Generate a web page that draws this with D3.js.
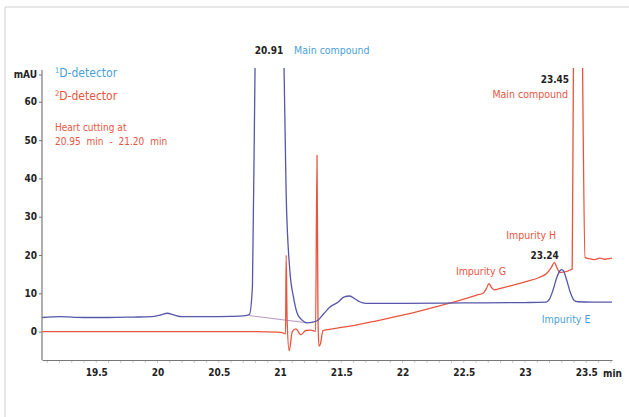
<!DOCTYPE html>
<html>
<head>
<meta charset="utf-8">
<script src="https://cdn.jsdelivr.net/npm/d3@7/dist/d3.min.js"></script>
<style>
  html, body { margin: 0; padding: 0; background: #fff; }
  svg { display: block; }
  .num { font-family: "Liberation Sans Narrow", "DejaVu Sans Condensed", "Liberation Sans", sans-serif; font-weight: bold; font-size: 10px; fill: #222; }
  .lbl { font-family: "Liberation Sans Narrow", "DejaVu Sans Condensed", "Liberation Sans", sans-serif; font-size: 10.5px; }
</style>
</head>
<body>
<script>
// Retention time (min) and absorbance (mAU) of the first-dimension trace
const times1D = [19.06, 19.2, 19.4, 19.6, 19.8, 19.95, 20.03, 20.08, 20.13, 20.2, 20.4, 20.6, 20.72, 20.75, 20.775, 20.796,
  20.91, 21.033, 21.05, 21.08, 21.11, 21.14, 21.18, 21.22, 21.27, 21.31, 21.36, 21.41, 21.47, 21.52, 21.57, 21.61, 21.65, 21.7,
  22.0, 22.5, 23.0, 23.17, 23.2, 23.23, 23.26, 23.285, 23.30, 23.315, 23.34, 23.37, 23.40, 23.43, 23.55, 23.71];
const values1D = [3.7, 3.9, 3.7, 3.7, 3.8, 3.9, 4.4, 4.8, 4.4, 3.9, 3.9, 4.0, 4.2, 4.5, 12, 68.5,
  160, 68.5, 36, 16, 9, 4.8, 3.0, 2.3, 2.5, 3.0, 4.8, 6.5, 7.6, 9.0, 9.3, 8.6, 7.8, 7.4,
  7.4, 7.5, 7.6, 7.7, 8.5, 11.0, 14.2, 15.9, 16.2, 15.8, 13.5, 10.2, 8.2, 7.8, 7.7, 7.7];

// Baseline drawn under the main first-dimension peak
const baseTimes = [20.75, 21.22];
const baseValues = [4.2, 2.3];

// Retention time (min) and absorbance (mAU) of the second-dimension trace
const times2D = [19.06, 19.6, 20.2, 20.8, 20.98, 21.03, 21.045, 21.05, 21.058, 21.075, 21.1, 21.13, 21.17, 21.21, 21.25, 21.29,
  21.302, 21.31, 21.318, 21.33, 21.35, 21.4, 21.5, 21.6, 21.8, 22.0, 22.2, 22.4, 22.6, 22.66, 22.685, 22.705, 22.725, 22.75, 22.8, 23.0, 23.12,
  23.18, 23.215, 23.24, 23.262, 23.285, 23.385, 23.395, 23.45, 23.47, 23.49, 23.53, 23.57, 23.61, 23.65, 23.71];
const values2D = [0, 0, 0, 0, -0.1, -0.4, -0.6, 20, 3, -5, 0, 0.7, -0.8, 0.3, 0.4, 0.1,
  46, 3, -3.8, -3.2, 0.2, 0.6, 1.1, 1.6, 2.9, 4.3, 5.9, 7.6, 9.5, 10.1, 11.3, 12.5, 11.6, 10.9, 11.3, 13.0, 14.2,
  15.3, 16.8, 18.0, 16.6, 15.4, 16.3, 68.5, 150, 68.5, 19.4, 19.0, 18.8, 19.2, 18.9, 19.2];

const xTicks = [19.5, 20, 20.5, 21, 21.5, 22, 22.5, 23, 23.5];
const yTicks = [0, 10, 20, 30, 40, 50, 60];

// Peak annotations: retention time labels and compound names
const rtLabels = [
  { text: "20.91", t: 20.91, v: 72.5, anchor: "middle" },
  { text: "23.45", t: 23.36, v: 65, anchor: "end" },
  { text: "23.24", t: 23.16, v: 19, anchor: "middle" }
];
const nameLabels = [
  { text: "Main compound", t: 21.115, v: 72.5, anchor: "start", series: "1D" },
  { text: "Main compound", t: 23.35, v: 61, anchor: "end", series: "2D" },
  { text: "Impurity H", t: 23.05, v: 24.2, anchor: "middle", series: "2D" },
  { text: "Impurity G", t: 22.64, v: 14.8, anchor: "middle", series: "2D" },
  { text: "Impurity E", t: 23.335, v: 2.2, anchor: "middle", series: "1D" }
];

const W = 629, H = 417;
const blueLine = "#5557a8", redLine = "#e8553f", blueText = "#4a9fd8", redText = "#e8553f";

const svg = d3.select("body").append("svg").attr("width", W).attr("height", H);

// Light frame along the top and left edges
svg.append("path").attr("d", "M5,417V7H629").attr("fill", "none").attr("stroke", "#cfcfcf").attr("stroke-width", 1);

const x = d3.scaleLinear().domain([19.057, 23.71]).range([42, 612]);
const y = d3.scaleLinear().domain([-7.4, 68.3]).range([360, 70]);

// Plot clip so the saturated peaks stop at the top of the axis
svg.append("clipPath").attr("id", "plot")
  .append("rect").attr("x", 42).attr("y", 68).attr("width", 572).attr("height", 292);

// Axes
const gx = svg.append("g").attr("transform", "translate(0,360)")
  .call(d3.axisBottom(x).tickValues(xTicks).tickSize(0).tickPadding(9).tickFormat(d3.format("")));
gx.select(".domain").attr("stroke", "#777").attr("stroke-width", 1.2);
gx.selectAll("text").attr("class", "num");
// Minor tick marks under the time axis
svg.append("g").selectAll("line").data(d3.range(19.1, 23.71, 0.1)).join("line")
  .attr("x1", d => x(d)).attr("x2", d => x(d)).attr("y1", 361).attr("y2", 363)
  .attr("stroke", "#bbb").attr("stroke-width", 0.8);

const gy = svg.append("g").attr("transform", "translate(42,0)")
  .call(d3.axisLeft(y).tickValues(yTicks).tickSize(3).tickPadding(2));
gy.select(".domain").attr("d", `M0,${y(68.3)}V${y(-7.4)}`).attr("stroke", "#777").attr("stroke-width", 1.2);
gy.selectAll(".tick line").attr("stroke", "#777");
gy.selectAll("text").attr("class", "num");

svg.append("text").attr("class", "num").attr("x", 37).attr("y", 78).attr("text-anchor", "end").text("mAU");
svg.append("line").attr("x1", 39).attr("x2", 42).attr("y1", 75).attr("y2", 75).attr("stroke", "#777");
svg.append("text").attr("class", "num").attr("x", 603).attr("y", 377).attr("text-anchor", "start").text("min");

// Traces
const line = d3.line().x(d => x(d[0])).y(d => y(d[1])).curve(d3.curveMonotoneX);
const plot = svg.append("g").attr("clip-path", "url(#plot)");

plot.append("path").datum(d3.zip(baseTimes, baseValues)).attr("d", line)
  .attr("fill", "none").attr("stroke", "#a77ab8").attr("stroke-width", 1).attr("opacity", 0.8);
plot.append("path").datum(d3.zip(times2D, values2D)).attr("d", line)
  .attr("fill", "none").attr("stroke", redLine).attr("stroke-width", 1.3);
plot.append("path").datum(d3.zip(times1D, values1D)).attr("d", line)
  .attr("fill", "none").attr("stroke", blueLine).attr("stroke-width", 1.3);

// Legend and method note
const legend = svg.append("g").attr("class", "lbl");
const l1 = legend.append("text").attr("x", 55).attr("y", 77).attr("fill", blueText).attr("font-size", "12px");
l1.append("tspan").attr("font-size", "7.5px").attr("dy", "-4").text("1");
l1.append("tspan").attr("dy", "4").text("D-detector");
const l2 = legend.append("text").attr("x", 55).attr("y", 100).attr("fill", redText).attr("font-size", "12px");
l2.append("tspan").attr("font-size", "7.5px").attr("dy", "-4").text("2");
l2.append("tspan").attr("dy", "4").text("D-detector");
legend.append("text").attr("x", 55).attr("y", 131).attr("fill", redText).attr("font-size", "10px").text("Heart cutting at");
legend.append("text").attr("x", 55).attr("y", 145).attr("fill", redText).attr("font-size", "10px")
  .attr("word-spacing", "3px").text("20.95 min - 21.20 min");

// Peak annotations
svg.append("g").selectAll("text").data(rtLabels).join("text")
  .attr("class", "num").attr("x", d => x(d.t)).attr("y", d => y(d.v))
  .attr("text-anchor", d => d.anchor).text(d => d.text);
svg.append("g").selectAll("text").data(nameLabels).join("text")
  .attr("class", "lbl").attr("font-size", "10.4px")
  .attr("x", d => x(d.t)).attr("y", d => y(d.v))
  .attr("text-anchor", d => d.anchor)
  .attr("fill", d => d.series === "1D" ? blueText : redText).text(d => d.text);
</script>
</body>
</html>
